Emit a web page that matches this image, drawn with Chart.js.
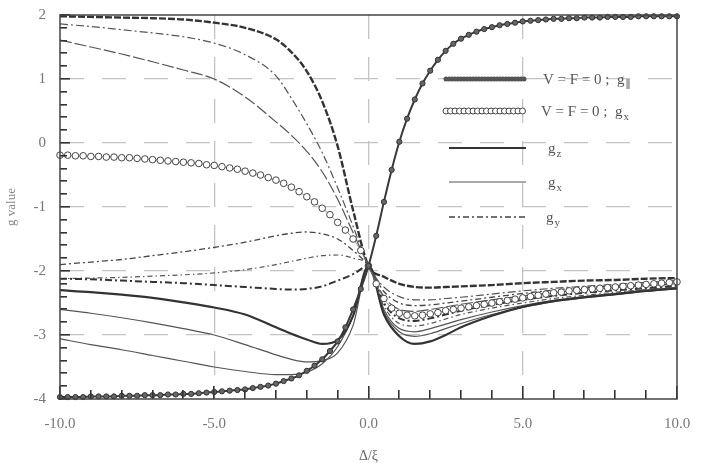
<!DOCTYPE html>
<html>
<head>
<meta charset="utf-8">
<script src="https://cdn.jsdelivr.net/npm/chart.js@4.4.1/dist/chart.umd.min.js"></script>
<style>
  html, body { margin: 0; background: #fff; }
  #wrap { width: 715px; height: 467px; }
</style>
</head>
<body>
<div id="wrap"><canvas id="gChart" width="715" height="467"></canvas></div>
<script>
// x positions of the marker series (V = F = 0)
const xsCirc = [
  -10, -9.75, -9.5, -9.25, -9, -8.75, -8.5, -8.25, -8, -7.75, -7.5, -7.25,
  -7, -6.75, -6.5, -6.25, -6, -5.75, -5.5, -5.25, -5, -4.75, -4.5, -4.25,
  -4, -3.75, -3.5, -3.25, -3, -2.75, -2.5, -2.25, -2, -1.75, -1.5, -1.25,
  -1, -0.75, -0.5, -0.25, 0, 0.25, 0.5, 0.75, 1, 1.25, 1.5, 1.75,
  2, 2.25, 2.5, 2.75, 3, 3.25, 3.5, 3.75, 4, 4.25, 4.5, 4.75,
  5, 5.25, 5.5, 5.75, 6, 6.25, 6.5, 6.75, 7, 7.25, 7.5, 7.75,
  8, 8.25, 8.5, 8.75, 9, 9.25, 9.5, 9.75, 10
];
// V = F = 0 ; g parallel (filled circles)
const gParV0 = [
  -3.97, -3.97, -3.97, -3.97, -3.96, -3.96, -3.96, -3.96, -3.95, -3.95, -3.95, -3.94,
  -3.94, -3.94, -3.93, -3.93, -3.92, -3.92, -3.91, -3.90, -3.89, -3.88, -3.87, -3.86,
  -3.85, -3.83, -3.81, -3.79, -3.76, -3.72, -3.68, -3.63, -3.56, -3.48, -3.38, -3.25,
  -3.10, -2.88, -2.60, -2.28, -1.92, -1.45, -0.92, -0.42, 0.02, 0.38, 0.68, 0.93,
  1.13, 1.30, 1.44, 1.55, 1.63, 1.69, 1.74, 1.78, 1.81, 1.84, 1.86, 1.88,
  1.90, 1.91, 1.92, 1.93, 1.94, 1.94, 1.95, 1.95, 1.96, 1.96, 1.96, 1.97,
  1.97, 1.97, 1.97, 1.98, 1.98, 1.98, 1.98, 1.98, 1.98
];
// V = F = 0 ; g_x (open circles)
const gPerpV0 = [
  -0.19, -0.19, -0.20, -0.20, -0.21, -0.21, -0.22, -0.22, -0.23, -0.23, -0.24, -0.25,
  -0.26, -0.27, -0.28, -0.29, -0.30, -0.31, -0.32, -0.34, -0.35, -0.37, -0.39, -0.41,
  -0.44, -0.47, -0.50, -0.54, -0.58, -0.63, -0.69, -0.76, -0.84, -0.92, -1.02, -1.12,
  -1.24, -1.36, -1.50, -1.68, -1.92, -2.20, -2.43, -2.58, -2.66, -2.69, -2.70, -2.69,
  -2.67, -2.65, -2.62, -2.60, -2.58, -2.56, -2.54, -2.52, -2.50, -2.48, -2.46, -2.44,
  -2.42, -2.40, -2.38, -2.36, -2.34, -2.33, -2.31, -2.30, -2.29, -2.28, -2.27, -2.26,
  -2.25, -2.24, -2.23, -2.22, -2.21, -2.20, -2.19, -2.18, -2.17
];

// x positions of the plain curves
const xsLine = [-10, -9, -8, -7, -6, -5, -4, -3, -2.5, -2, -1.5, -1, -0.5, 0,
                0.5, 1, 1.5, 2, 2.5, 3, 4, 5, 6, 7, 8, 9, 10];
const curveA = [1.98, 1.97, 1.96, 1.95, 1.93, 1.88, 1.80, 1.62, 1.42, 1.12, 0.65, -0.05, -1.05, -1.92,
                -2.09, -2.20, -2.25, -2.26, -2.25, -2.24, -2.22, -2.19, -2.17, -2.15, -2.14, -2.12, -2.11];
const curveB = [1.86, 1.82, 1.77, 1.72, 1.66, 1.56, 1.38, 1.05, 0.70, 0.30, -0.15, -0.70, -1.30, -1.92,
                -2.25, -2.40, -2.45, -2.45, -2.43, -2.41, -2.36, -2.31, -2.27, -2.24, -2.21, -2.18, -2.15];
const curveC = [1.61, 1.50, 1.39, 1.27, 1.14, 1.00, 0.72, 0.33, 0.12, -0.13, -0.45, -0.88, -1.40, -1.92,
                -2.40, -2.60, -2.63, -2.60, -2.56, -2.52, -2.45, -2.39, -2.34, -2.29, -2.26, -2.23, -2.20];
const curveD = [-1.90, -1.86, -1.82, -1.76, -1.70, -1.63, -1.55, -1.45, -1.41, -1.39, -1.42, -1.50, -1.68, -1.92,
                -2.32, -2.50, -2.54, -2.53, -2.50, -2.47, -2.41, -2.35, -2.30, -2.26, -2.23, -2.20, -2.17];
const curveE = [-2.12, -2.13, -2.15, -2.17, -2.19, -2.22, -2.25, -2.28, -2.29, -2.28, -2.24, -2.15, -2.05, -1.92,
                -2.50, -2.74, -2.78, -2.74, -2.68, -2.62, -2.53, -2.45, -2.39, -2.34, -2.30, -2.27, -2.23];
const curveF = [-2.12, -2.11, -2.10, -2.08, -2.06, -2.03, -1.98, -1.90, -1.85, -1.80, -1.76, -1.75, -1.80, -1.92,
                -2.55, -2.82, -2.86, -2.82, -2.75, -2.68, -2.58, -2.50, -2.43, -2.38, -2.33, -2.29, -2.25];
const curveG = [-2.30, -2.33, -2.37, -2.42, -2.49, -2.57, -2.68, -2.88, -2.98, -3.07, -3.14, -3.08, -2.70, -1.92,
                -2.68, -3.02, -3.14, -3.10, -3.00, -2.88, -2.70, -2.56, -2.47, -2.41, -2.36, -2.31, -2.27];
const curveH = [-2.60, -2.66, -2.73, -2.81, -2.90, -3.00, -3.15, -3.31, -3.38, -3.42, -3.40, -3.28, -2.85, -1.92,
                -2.60, -2.90, -2.95, -2.90, -2.83, -2.76, -2.64, -2.54, -2.46, -2.40, -2.35, -2.30, -2.26];
const curveI = [-3.06, -3.15, -3.23, -3.32, -3.41, -3.50, -3.57, -3.62, -3.62, -3.58, -3.45, -3.18, -2.70, -1.92,
                -2.64, -2.95, -3.02, -2.98, -2.90, -2.82, -2.68, -2.57, -2.48, -2.42, -2.37, -2.32, -2.28];

const xTicks = [-10, -5, 0, 5, 10];
const yTicks = [-4, -3, -2, -1, 0, 1, 2];

const SERIF = "'Liberation Serif', 'DejaVu Serif', serif";
Chart.defaults.font.family = SERIF;

function pts(xs, ys) {
    return xs.map((x, i) => ({ x: x, y: ys[i] }));
}

function curve(ys, color, width, dash) {
    return {
        data: pts(xsLine, ys),
        borderColor: color,
        borderWidth: width,
        borderDash: dash,
        pointRadius: 0,
        cubicInterpolationMode: "monotone",
        fill: false
    };
}

// inward ticks and the closed frame
const axisTicks = {
    id: "axisTicks",
    afterDatasetsDraw(chart) {
        const { ctx, chartArea: a, scales } = chart;
        ctx.save();
        ctx.fillStyle = "#333";
        for (let i = 0; i <= 30; i++) {
            const py = Math.round(scales.y.getPixelForValue(-4 + i * 0.2));
            const len = i % 5 === 0 ? 10 : 7;
            ctx.fillRect(a.left, py - 1, len, 1.6);
        }
        for (let v = -10; v <= 10; v++) {
            const px = Math.round(scales.x.getPixelForValue(v));
            const len = v % 5 === 0 ? 13 : 9;
            ctx.fillRect(px - 1, a.bottom - len, 1.6, len);
        }
        ctx.lineWidth = 1.5;
        ctx.strokeStyle = "#444";
        ctx.strokeRect(a.left, a.top, a.right - a.left, a.bottom - a.top);
        ctx.restore();
    }
};

// legend inside the plot, right half
const inLegend = {
    id: "inLegend",
    afterDraw(chart) {
        const { ctx, chartArea: a } = chart;
        const ds = chart.data.datasets;
        const rows = [
            { main: "V = F = 0 ;  g", sub: "\u2225", kind: "filled", dy: 64, tx: 483 },
            { main: "V = F = 0 ;  g", sub: "x", kind: "open", dy: 96, tx: 481 },
            { main: "g", sub: "z", kind: 8, dy: 133, tx: 488 },
            { main: "g", sub: "x", kind: 9, dy: 167, tx: 488 },
            { main: "g", sub: "y", kind: 5, dy: 202, tx: 486 }
        ];
        const x0 = a.left + 386, x1 = a.left + 464;
        ctx.save();
        rows.forEach(r => {
            const yy = a.top + r.dy;
            if (r.kind === "filled") {
                ctx.fillStyle = "#555";
                ctx.strokeStyle = "#333";
                ctx.lineWidth = 2;
                ctx.beginPath(); ctx.moveTo(x0, yy); ctx.lineTo(x1, yy); ctx.stroke();
                for (let px = x0; px <= x1; px += 3) {
                    ctx.beginPath(); ctx.arc(px, yy, 2.5, 0, Math.PI * 2); ctx.fill();
                }
            } else if (r.kind === "open") {
                ctx.strokeStyle = "#444";
                ctx.fillStyle = "#fff";
                ctx.lineWidth = 1;
                for (let px = x0; px <= x1; px += 4.5) {
                    ctx.beginPath(); ctx.arc(px, yy, 3, 0, Math.PI * 2); ctx.fill(); ctx.stroke();
                }
            } else {
                const d = ds[r.kind];
                ctx.strokeStyle = d.borderColor;
                ctx.lineWidth = d.borderWidth;
                ctx.setLineDash(d.borderDash || []);
                ctx.beginPath(); ctx.moveTo(x0 + 3, yy); ctx.lineTo(x1 + 2, yy); ctx.stroke();
                ctx.setLineDash([]);
            }
            ctx.fillStyle = "#555";
            ctx.textBaseline = "middle";
            ctx.font = "15px " + SERIF;
            const tx = a.left + r.tx;
            ctx.fillText(r.main, tx, yy + 1);
            const w = ctx.measureText(r.main).width;
            ctx.font = "11px " + SERIF;
            ctx.fillText(r.sub, tx + w + 1, yy + 6);
        });
        ctx.restore();
    }
};

const gridColor = (ctx, edges) => {
    if (ctx.tick && edges.includes(ctx.tick.value)) return "rgba(0,0,0,0)";
    return "#c4c4c4";
};

new Chart(document.getElementById("gChart"), {
    type: "line",
    data: {
        datasets: [
            {
                data: pts(xsCirc, gParV0),
                borderColor: "#3a3a3a",
                borderWidth: 2,
                pointRadius: 2.6,
                pointBackgroundColor: "#666",
                pointBorderColor: "#333",
                pointBorderWidth: 1,
                cubicInterpolationMode: "monotone",
                clip: false
            },
            {
                data: pts(xsCirc, gPerpV0),
                borderColor: "#777",
                borderWidth: 0.8,
                pointRadius: 3.3,
                pointBackgroundColor: "#fff",
                pointBorderColor: "#444",
                pointBorderWidth: 1,
                cubicInterpolationMode: "monotone",
                clip: false
            },
            curve(curveA, "#333", 2.4, [7, 2]),
            curve(curveB, "#555", 1.2, [8, 3, 2, 3]),
            curve(curveC, "#555", 1.2, [12, 3]),
            curve(curveD, "#444", 1.3, [6, 3, 2, 3]),
            curve(curveE, "#333", 2.0, [7, 3, 2, 3]),
            curve(curveF, "#555", 1.2, [5, 3, 1.5, 3]),
            curve(curveG, "#333", 2.2, []),
            curve(curveH, "#555", 1.2, []),
            curve(curveI, "#555", 1.2, [])
        ]
    },
    options: {
        responsive: false,
        animation: false,
        devicePixelRatio: 1,
        layout: { padding: { left: 0, right: 38, top: 15, bottom: 0 } },
        plugins: { legend: { display: false }, tooltip: { enabled: false } },
        scales: {
            x: {
                type: "linear",
                min: -10,
                max: 10,
                afterFit(s) { s.height = 68; },
                afterBuildTicks(s) { s.ticks = xTicks.map(v => ({ value: v })); },
                ticks: {
                    padding: 16,
                    color: "#777",
                    maxRotation: 0,
                    font: { size: 15 },
                    callback: v => v.toFixed(1)
                },
                grid: { drawTicks: false, lineWidth: 1.3, color: ctx => gridColor(ctx, [-10, 10]) },
                border: { display: false, dash: [24, 18] },
                title: { display: true, text: "\u0394/\u03be", color: "#666", font: { size: 14 }, padding: { top: 0, bottom: 2 } }
            },
            y: {
                min: -4,
                max: 2,
                afterFit(s) { s.width = 60; s.paddingTop = 0; s.paddingBottom = 0; },
                afterBuildTicks(s) { s.ticks = yTicks.map(v => ({ value: v })); },
                ticks: { padding: 14, color: "#777", font: { size: 15 } },
                grid: { drawTicks: false, lineWidth: 1.3, color: ctx => gridColor(ctx, [-4, 2]) },
                border: { display: false, dash: [24, 18] },
                title: { display: true, text: "g value", color: "#888", font: { size: 13 }, padding: { top: 4, bottom: 0 } }
            }
        }
    },
    plugins: [axisTicks, inLegend]
});
</script>
</body>
</html>
